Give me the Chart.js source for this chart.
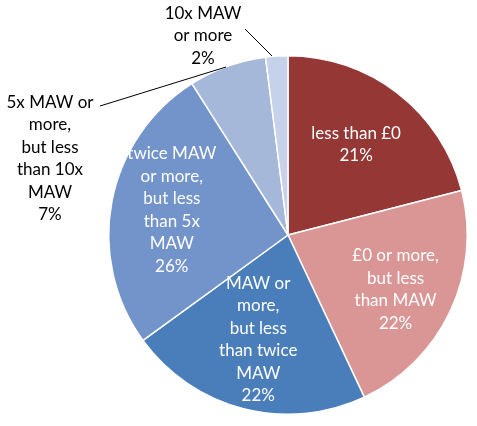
<!DOCTYPE html>
<html><head><meta charset="utf-8">
<script src="https://cdn.jsdelivr.net/npm/chart.js@4"></script>
<style>html,body{margin:0;padding:0;background:#fff}#w{width:477px;height:426px}</style>
</head><body><div id="w"><canvas id="c"></canvas></div>
<script>
const categories = ["less than £0","£0 or more, but less than MAW","MAW or more, but less than twice MAW","twice MAW or more, but less than 5x MAW","5x MAW or more, but less than 10x MAW","10x MAW or more"];
const values = [21,22,22,26,7,2];
const labelLines = [["less than £0","21%"],["£0 or more,","but less","than MAW","22%"],["MAW or","more,","but less","than twice","MAW","22%"],["twice MAW","or more,","but less","than 5x","MAW","26%"],["5x MAW or","more,","but less","than 10x","MAW","7%"],["10x MAW","or more","2%"]];
const colors = ["#953735","#D99694","#4A7EBB","#7394CA","#A5B8DA","#C5D2E9"];
const place = [{f:0.62,da:0},{f:0.68,da:0.05},{f:0.62,da:0.02},{f:0.66,da:0},{out:[50,94],line:[[100,106],[226,67]]},{out:[203,5],line:[[245,29],[272,56]]}];
const labelPlugin={id:'lbl',afterDatasetsDraw(chart){
  const ctx=chart.ctx, meta=chart.getDatasetMeta(0);
  ctx.save();ctx.font='17px Lato, "Liberation Sans", sans-serif';ctx.textAlign='center';ctx.textBaseline='top';
  const lh=22.5;
  meta.data.forEach((a,i)=>{
    const p=place[i], lines=labelLines[i];
    let x,y;
    if(p.out){
      x=p.out[0];y=p.out[1];ctx.fillStyle='#000';
      ctx.strokeStyle='#000';ctx.lineWidth=1;ctx.beginPath();ctx.moveTo(p.line[0][0],p.line[0][1]);ctx.lineTo(p.line[1][0],p.line[1][1]);ctx.stroke();
      lines.forEach((t,k)=>ctx.fillText(t,x,y+k*lh));
    }else{
      const ang=(a.startAngle+a.endAngle)/2+p.da, r=a.outerRadius*p.f;
      x=a.x+Math.cos(ang)*r;y=a.y+Math.sin(ang)*r-lines.length*lh/2;
      ctx.fillStyle='#fff';lines.forEach((t,k)=>ctx.fillText(t,x,y+k*lh));
    }
  });
  ctx.restore();}};
new Chart(document.getElementById('c'),{type:'pie',
 data:{labels:categories,datasets:[{data:values,backgroundColor:colors,borderColor:'#fff',borderWidth:1.5}]},
 options:{responsive:true,maintainAspectRatio:false,animation:false,
  layout:{padding:{left:108,right:9,top:55,bottom:11}},
  plugins:{legend:{display:false},tooltip:{enabled:false}}},
 plugins:[labelPlugin]});
</script></body></html>
